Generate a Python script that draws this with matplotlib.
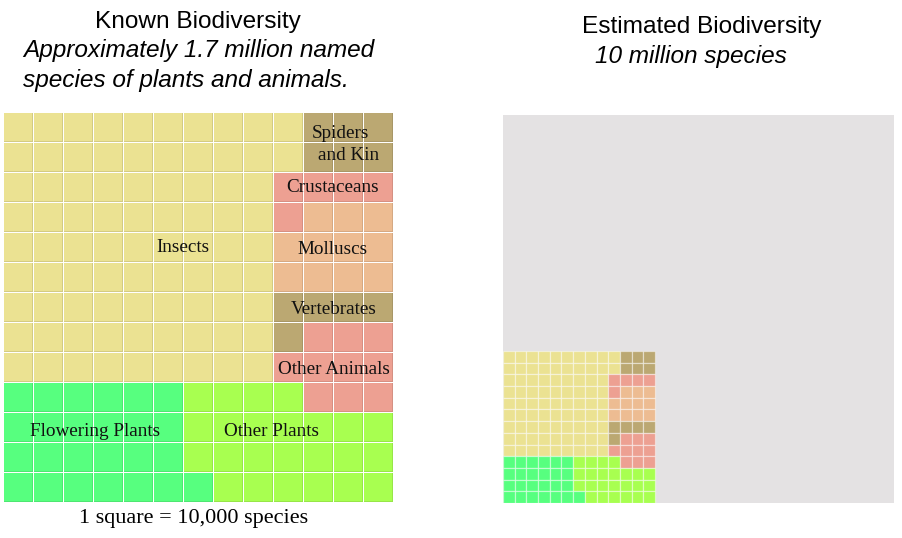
import matplotlib
matplotlib.use("Agg")
import matplotlib.pyplot as plt
from matplotlib.patches import Rectangle
import matplotlib.colors as mcolors

# ---------------- data ----------------
category_codes = ["I", "S", "C", "M", "V", "O", "F", "P"]
category_names = ["Insects", "Spiders and Kin", "Crustaceans", "Molluscs",
                  "Vertebrates", "Other Animals", "Flowering Plants", "Other Plants"]
# number of squares (1 square = 10,000 species)
category_squares = [83, 6, 5, 11, 5, 10, 25, 24]

# waffle layout (13 x 13), one code per square
waffle_rows = [
    "IIIIIIIIIISSS",
    "IIIIIIIIIISSS",
    "IIIIIIIIICCCC",
    "IIIIIIIIICMMM",
    "IIIIIIIIIMMMM",
    "IIIIIIIIIMMMM",
    "IIIIIIIIIVVVV",
    "IIIIIIIIIVOOO",
    "IIIIIIIIIOOOO",
    "FFFFFFPPPPOOO",
    "FFFFFFPPPPPPP",
    "FFFFFFPPPPPPP",
    "FFFFFFFPPPPPP",
]

known_species_millions = 1.7
estimated_species_millions = 10

# ---------------- style ----------------
colors = {
    "I": "#EBE292",
    "S": "#BBA872",
    "C": "#EDA092",
    "M": "#EDBC92",
    "V": "#BBA872",
    "O": "#EDA092",
    "F": "#57FF7F",
    "P": "#A8FF50",
}
grey = "#E4E2E3"

W, H = 902, 538
fig = plt.figure(figsize=(W / 100, H / 100), dpi=100)
fig.patch.set_facecolor("white")

def fx(px):
    return px / W

def fy(py):
    return 1 - py / H

n = len(waffle_rows)

# ---------------- left panel ----------------
L0, T0, SIDE = 4, 113, 390
axL = fig.add_axes([fx(L0), fy(T0 + SIDE), SIDE / W, SIDE / H])
axL.set_xlim(0, n)
axL.set_ylim(n, 0)
axL.axis("off")

g = 1.3 / 30
d = 1.2 / 30
for r, row in enumerate(waffle_rows):
    for c, code in enumerate(row):
        base = mcolors.to_rgb(colors[code])
        dark = tuple(v * 0.9 for v in base)
        axL.add_patch(Rectangle((c, r), 1 - g, 1 - g, facecolor=dark,
                                edgecolor="none", linewidth=0))
        axL.add_patch(Rectangle((c, r), 1 - g - d, 1 - g - d, facecolor=base,
                                edgecolor="none", linewidth=0))

def lab(px, py, s):
    axL.text((px - L0) / 30, (py - T0) / 30, s, ha="center", va="center",
             fontsize=13.8, family="Liberation Serif", color="#111111")

lab(183, 248, "Insects")
lab(340, 133, "Spiders")
lab(349, 156, "and Kin")
lab(333, 188, "Crustaceans")
lab(333, 249, "Molluscs")
lab(334, 309, "Vertebrates")
lab(334, 369, "Other Animals")
lab(95, 431, "Flowering Plants")
lab(272, 431, "Other Plants")

# ---------------- right panel ----------------
R0, RT, RW, RH = 503, 115, 391, 388
cell_px = 152 / n
axR = fig.add_axes([fx(R0), fy(RT + RH), RW / W, RH / H])
gw, gh = RW / cell_px, RH / cell_px
axR.set_xlim(0, gw)
axR.set_ylim(gh, 0)
axR.axis("off")
axR.add_patch(Rectangle((0, 0), gw, gh, facecolor=grey, edgecolor="none"))
off = gh - n
for r, row in enumerate(waffle_rows):
    for c, code in enumerate(row):
        axR.add_patch(Rectangle((c, off + r), 1, 1, facecolor=colors[code],
                                edgecolor=(1, 1, 1, 0.45), linewidth=0.9))

# ---------------- titles ----------------
sans = "Liberation Sans"
fs = 17.6
fig.text(fx(198), fy(22), "Known Biodiversity", ha="center", va="center",
         fontsize=fs, family=sans)
fig.text(fx(23), fy(51), f"Approximately {known_species_millions} million named",
         ha="left", va="center", fontsize=fs, family=sans, style="italic")
fig.text(fx(23), fy(80), "species of plants and animals.",
         ha="left", va="center", fontsize=fs, family=sans, style="italic")
fig.text(fx(702), fy(27), "Estimated Biodiversity", ha="center", va="center",
         fontsize=fs, family=sans)
fig.text(fx(595), fy(57), f"{estimated_species_millions} million species",
         ha="left", va="center", fontsize=fs, family=sans, style="italic")
fig.text(fx(194), fy(518), "1 square = 10,000 species", ha="center", va="center",
         fontsize=16, family="Liberation Serif")

fig.savefig("out.png", dpi=100, facecolor="white")
